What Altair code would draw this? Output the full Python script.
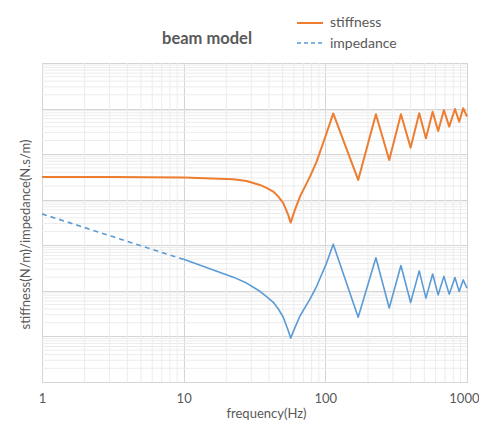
import altair as alt
import pandas as pd

# ---- data ----
freq = [1, 3.16, 10, 22.4, 27.8, 34.5, 38.5, 42.9, 46.6, 50.5, 54.7, 56.9, 61.0, 66.2,
        77.9, 86.8, 102, 113.7, 170.6, 227.5, 282.5, 341.7, 400, 460, 513, 572, 626,
        687, 749, 822, 881, 940, 1000]
stiffness = [31600, 31600, 30900, 28200, 25800, 21100, 18200, 15100, 11700, 8400, 4650,
             3150, 5970, 11700, 32100, 68500, 287000, 782000, 27200, 750000, 74600,
             750000, 139000, 789000, 223000, 855000, 323000, 931000, 401000, 979000,
             516000, 1016000, 664000]
impedance = [4890, 1550, 491, 200, 148, 98, 75, 56, 40, 26.4, 13.5, 9.2, 15.6, 28.1,
             65.6, 126, 407, 1057, 26.3, 531, 42, 360, 55.4, 274, 69.2, 235, 81.7, 208,
             84.7, 196, 96.6, 174, 115]
dashed_until = 10  # impedance drawn dashed below this frequency

x_major = [1, 10, 100, 1000]
x_minor = [m * d for d in (1, 10, 100) for m in range(2, 10)]
y_major = [10 ** k for k in range(0, 8)]
y_minor = [m * 10 ** k for k in range(0, 7) for m in range(2, 10)]

title_text = "beam model"
legend_labels = ["stiffness", "impedance"]
x_title = "frequency(Hz)"
y_title = "stiffness(N/m)/impedance(N.s/m)"

ORANGE = "#ED7D31"
BLUE = "#5B9BD5"
GREY = "#595959"
FONT = "Lato"

df = pd.DataFrame({"f": freq, "stiffness": stiffness, "impedance": impedance})
imp_dash = df[df.f <= dashed_until]
imp_solid = df[df.f >= dashed_until]

xscale = alt.Scale(type="log", domain=[1, 1000], nice=False)
yscale = alt.Scale(type="log", domain=[1, 1e7], nice=False)

xaxis = alt.Axis(values=x_major, format="d", title=x_title, grid=True, gridColor="#d4d4d4",
                 ticks=False, domain=False, labelPadding=10, labelFontSize=13,
                 labelColor=GREY, labelFont=FONT, titleFont=FONT, titleFontSize=13,
                 titleFontWeight="normal", titleColor=GREY, titlePadding=2, titleX=224,
                 labelFlush=False,
                 labelAlign={"expr": "datum.value >= 1000 ? 'right' : 'center'"},
                 labelOffset={"expr": "datum.value >= 1000 ? 12 : 0"})
yaxis = alt.Axis(values=y_major, labels=False, ticks=False, domain=False, grid=True,
                 gridColor="#d4d4d4", title=y_title, titleFont=FONT, titleFontSize=13,
                 titleFontWeight="normal", titleColor=GREY, titlePadding=10, titleY=171)

xminor = alt.Chart(pd.DataFrame({"f": x_minor})).mark_rule(
    color="#ececec", strokeWidth=1).encode(x=alt.X("f:Q", scale=xscale, axis=xaxis))
yminor = alt.Chart(pd.DataFrame({"v": y_minor})).mark_rule(
    color="#ececec", strokeWidth=1).encode(y=alt.Y("v:Q", scale=yscale, axis=yaxis))

stiff_line = alt.Chart(df).mark_line(color=ORANGE, strokeWidth=2, interpolate="linear",
                                     strokeJoin="round").encode(
    x=alt.X("f:Q", scale=xscale, axis=xaxis),
    y=alt.Y("stiffness:Q", scale=yscale, axis=yaxis))
imp_line = alt.Chart(imp_solid).mark_line(color=BLUE, strokeWidth=1.6, interpolate="linear",
                                          strokeJoin="round").encode(
    x=alt.X("f:Q", scale=xscale, axis=xaxis),
    y=alt.Y("impedance:Q", scale=yscale, axis=yaxis))
imp_dash_line = alt.Chart(imp_dash).mark_line(color=BLUE, strokeWidth=1.6, strokeDash=[5, 4]).encode(
    x=alt.X("f:Q", scale=xscale, axis=xaxis),
    y=alt.Y("impedance:Q", scale=yscale, axis=yaxis))

one = pd.DataFrame({"a": [0]})
title_mark = alt.Chart(one).mark_text(
    text=title_text, font=FONT, fontSize=16.5, fontWeight="bold", color=GREY,
    align="center", baseline="middle").encode(x=alt.value(165), y=alt.value(-24))
leg1 = alt.Chart(one).mark_rule(color=ORANGE, strokeWidth=2).encode(
    x=alt.value(255), x2=alt.value(281), y=alt.value(-40))
leg2 = alt.Chart(one).mark_rule(color=BLUE, strokeWidth=1.6, strokeDash=[4, 3]).encode(
    x=alt.value(255), x2=alt.value(281), y=alt.value(-20))
leg1t = alt.Chart(one).mark_text(
    text=legend_labels[0], font=FONT, fontSize=14, color=GREY, align="left",
    baseline="middle").encode(x=alt.value(288), y=alt.value(-40))
leg2t = alt.Chart(one).mark_text(
    text=legend_labels[1], font=FONT, fontSize=14, color=GREY, align="left",
    baseline="middle").encode(x=alt.value(288), y=alt.value(-19))

chart = alt.layer(
    xminor, yminor, stiff_line, imp_dash_line, imp_line,
    title_mark, leg1, leg2, leg1t, leg2t
).properties(
    width=425, height=319,
    padding={"left": 34, "top": 55, "right": 12, "bottom": 45},
    autosize=alt.AutoSizeParams(type="none"),
    background="white",
).configure_view(stroke="#d4d4d4")

chart.save("out.html", embed_options={"renderer": "svg", "actions": False})
